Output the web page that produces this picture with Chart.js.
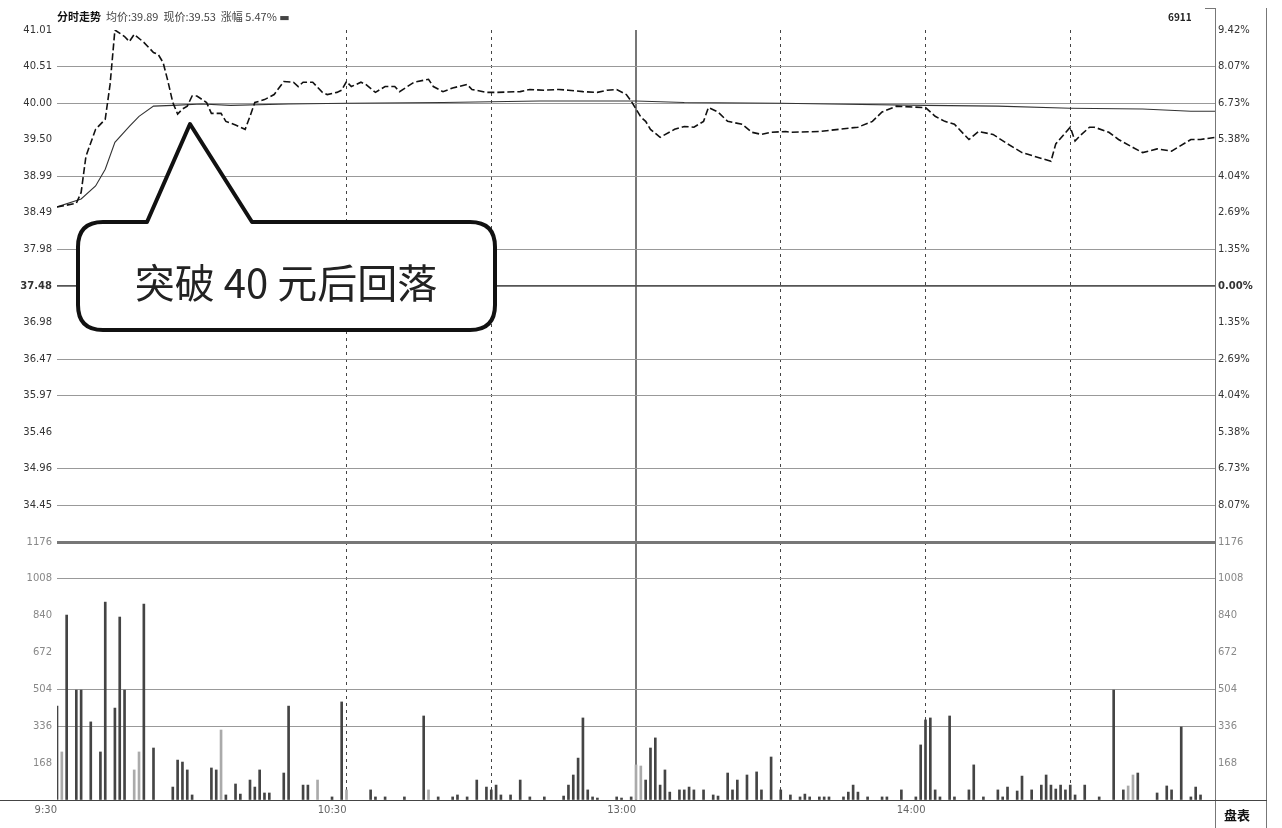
<!DOCTYPE html>
<html>
<head>
<meta charset="utf-8">
<script src="https://cdn.jsdelivr.net/npm/chart.js@4.4.0/dist/chart.umd.min.js"></script>
<style>
  body { margin: 0; background: #fff; width: 1282px; height: 828px; overflow: hidden; position: relative;
         font-family: "Noto Sans CJK SC", "DejaVu Sans", sans-serif; }
  #priceChart { position: absolute; left: 0; top: 0; }
  #volChart { position: absolute; left: 0; top: 530px; }
  .frame { position: absolute; background: #777; }
  #title { position: absolute; left: 57px; top: 8px; font-size: 11px; color: #444; white-space: nowrap; }
  #title b { color: #111; }
  #corner { position: absolute; left: 1168px; top: 9px; font-size: 10px; font-weight: bold; color: #222; }
  #tab { position: absolute; left: 1224px; top: 805px; font-size: 13px; font-weight: bold; color: #111; }
  #callout { position: absolute; left: 0; top: 0; }
</style>
</head>
<body>
<canvas id="priceChart" width="1282" height="560"></canvas>
<canvas id="volChart" width="1282" height="298"></canvas>

<div class="frame" style="left:1215px;top:8px;width:1px;height:820px;"></div>
<div class="frame" style="left:1266px;top:8px;width:1px;height:820px;"></div>
<div class="frame" style="left:1205px;top:8px;width:10px;height:1px;"></div>
<div class="frame" style="left:0;top:800px;width:1267px;height:1px;background:#444;"></div>
<div id="title"><b>分时走势</b>&nbsp; 均价:39.89 &nbsp;现价:39.53 &nbsp;涨幅 5.47% ▬</div>
<div id="corner">6911</div>
<div id="tab">盘表</div>

<svg id="callout" width="1282" height="828">
  <path d="M 147 222 L 190 124 L 252 222 L 470 222 Q 495 222 495 247 L 495 305 Q 495 330 470 330 L 103 330 Q 78 330 78 305 L 78 247 Q 78 222 103 222 Z"
        fill="#fff" stroke="#111" stroke-width="4" stroke-linejoin="round"/>
  <text x="286" y="298" text-anchor="middle" font-size="40" fill="#222"
        font-family="Noto Sans CJK SC, sans-serif">突破 40 元后回落</text>
</svg>

<script>
// minute index: 0 = 9:30, 120 = 11:30/13:00, 240 = 15:00
var prevClose = 37.48;
var topPrice = 41.01;

var priceTimes = [0, 4, 5, 6, 8, 10, 11, 12, 14, 15, 16, 18, 20, 21, 22, 23, 24, 25, 26, 27, 28, 29, 31, 32, 34, 35, 37, 39, 40, 41,
  43, 45, 47, 49, 50, 51, 53, 55, 56, 58, 59, 60, 61, 63, 64, 66, 68, 70, 71, 74, 77, 78, 80, 82, 85, 86, 89, 91, 96, 98,
  101, 104, 106, 109, 112, 114, 116, 118, 119, 120, 121, 122, 123, 125, 128, 130, 132, 134, 135, 137, 139, 142, 144, 146, 148, 151, 152, 158, 162, 166,
  169, 171, 174, 180, 182, 184, 186, 189, 191, 194, 197, 200, 203, 206, 207, 210, 211, 212, 214, 215, 218, 220, 223, 225, 228, 231, 235, 237, 240];
var prices = [38.57, 38.62, 38.77, 39.27, 39.64, 39.78, 40.26, 41.01, 40.92, 40.85, 40.95, 40.84, 40.70, 40.67, 40.56, 40.30, 40.01, 39.85, 39.92, 39.96, 40.10, 40.10, 40.01, 39.86, 39.86, 39.75, 39.70, 39.64, 39.82, 40.01,
  40.05, 40.12, 40.30, 40.29, 40.23, 40.29, 40.29, 40.15, 40.12, 40.15, 40.18, 40.30, 40.23, 40.29, 40.26, 40.15, 40.23, 40.23, 40.16, 40.29, 40.33, 40.23, 40.16, 40.21, 40.26, 40.19, 40.15, 40.15, 40.16, 40.19,
  40.18, 40.19, 40.18, 40.16, 40.15, 40.18, 40.19, 40.12, 40.03, 39.92, 39.81, 39.75, 39.64, 39.53, 39.64, 39.68, 39.67, 39.75, 39.94, 39.88, 39.75, 39.71, 39.60, 39.57, 39.60, 39.61, 39.60, 39.61, 39.64, 39.67,
  39.75, 39.88, 39.96, 39.94, 39.82, 39.75, 39.71, 39.50, 39.61, 39.57, 39.44, 39.32, 39.26, 39.20, 39.44, 39.67, 39.48, 39.55, 39.67, 39.67, 39.60, 39.50, 39.39, 39.32, 39.37, 39.34, 39.50, 39.50, 39.53];

var avgTimes = [0, 5, 8, 10, 12, 15, 17, 20, 24, 30, 36, 48, 60, 80, 100, 120, 130, 150, 160, 180, 195, 210, 225, 235, 240];
var avgPrices = [38.57, 38.68, 38.86, 39.09, 39.46, 39.68, 39.82, 39.96, 39.97, 39.99, 39.97, 39.99, 40.00, 40.01, 40.03, 40.03, 40.01, 40.00, 39.99, 39.97, 39.96, 39.93, 39.92, 39.89, 39.89];

var volTimes = [0, 1, 2, 4, 5, 7, 9, 10, 12, 13, 14, 16, 17, 18, 20, 24, 25, 26, 27, 28, 32, 33, 34, 35, 37, 38, 40, 41, 42, 43,
  44, 47, 48, 51, 52, 54, 57, 59, 60, 65, 66, 68, 72, 76, 77, 79, 82, 83, 85, 87, 89, 90, 91, 92, 94, 96, 98, 101, 105, 106,
  107, 108, 109, 110, 111, 112, 116, 117, 119, 120, 121, 122, 123, 124, 125, 126, 127, 129, 130, 131, 132, 134, 136, 137, 139, 140, 141, 143, 145, 146,
  148, 150, 152, 154, 155, 156, 158, 159, 160, 163, 164, 165, 166, 168, 171, 172, 175, 178, 179, 180, 181, 182, 183, 185, 186, 189, 190, 192, 195, 196,
  197, 199, 200, 202, 204, 205, 206, 207, 208, 209, 210, 211, 213, 216, 219, 221, 222, 223, 224, 228, 230, 231, 233, 235, 236, 237];
var volumes = [428, 219, 843, 501, 501, 356, 219, 902, 419, 834, 501, 137, 219, 893, 237, 59, 182, 173, 137, 23, 146, 137, 319, 23, 73, 27, 91, 59, 137, 32,
  32, 123, 428, 68, 68, 91, 14, 447, 46, 46, 14, 14, 14, 383, 46, 14, 14, 23, 14, 91, 59, 46, 68, 23, 23, 91, 14, 14, 18, 68,
  114, 191, 374, 46, 14, 9, 14, 9, 14, 160, 155, 91, 237, 283, 68, 137, 36, 46, 46, 59, 46, 46, 23, 18, 123, 46, 91, 114, 128, 46,
  196, 46, 23, 14, 27, 14, 14, 14, 14, 14, 36, 68, 36, 14, 14, 14, 46, 14, 251, 365, 374, 46, 14, 383, 14, 46, 160, 14, 46, 14,
  59, 41, 109, 46, 68, 114, 68, 50, 68, 46, 68, 23, 68, 14, 501, 46, 64, 114, 123, 32, 64, 46, 333, 14, 59, 23];
// 1 = buy-side (dark bar), -1 = sell-side (pale bar)
var volSide = [1, -1, 1, 1, 1, 1, 1, 1, 1, 1, 1, -1, -1, 1, 1, 1, 1, 1, 1, 1, 1, 1, -1, 1, 1, 1, 1, 1, 1, 1,
  1, 1, 1, 1, 1, -1, 1, 1, -1, 1, 1, 1, 1, 1, -1, 1, 1, 1, 1, 1, 1, 1, 1, 1, 1, 1, 1, 1, 1, 1,
  1, 1, 1, 1, 1, 1, 1, 1, 1, -1, -1, 1, 1, 1, 1, 1, 1, 1, 1, 1, 1, 1, 1, 1, 1, 1, 1, 1, 1, 1,
  1, 1, 1, 1, 1, 1, 1, 1, 1, 1, 1, 1, 1, 1, 1, 1, 1, 1, 1, 1, 1, 1, 1, 1, 1, 1, 1, 1, 1, 1,
  1, 1, 1, 1, 1, 1, 1, 1, 1, 1, 1, 1, 1, 1, 1, 1, -1, -1, 1, 1, 1, 1, 1, 1, 1, 1];

var timeMarks = [60, 90, 120, 150, 180, 210];
var timeLabels = { 0: '9:30', 60: '10:30', 120: '13:00', 180: '14:00' };
var volMax = 1176, volStep = 168;

// price grid: 7 rows above and below previous close
var rowStep = (topPrice - prevClose) / 7;
var priceTicks = [];
for (var i = 0; i <= 14; i++) priceTicks.push(prevClose + (7 - i) * rowStep);
var hiddenRows = [0, 3, 5, 8, 11, 14];

function toPoints(xs, ys) {
  return xs.map(function (x, i) { return { x: x, y: ys[i] }; });
}

function vertGrid(ctx) {
  var v = ctx.tick && ctx.tick.value;
  if (v === 120) return '#777';
  if (timeMarks.indexOf(v) >= 0) return '#444';
  return 'rgba(0,0,0,0)';
}

var labelFont = { family: 'DejaVu Sans', size: 10 };

new Chart(document.getElementById('priceChart').getContext('2d'), {
  type: 'line',
  data: {
    datasets: [{
      data: toPoints(priceTimes, prices),
      borderColor: '#111', borderWidth: 1.6, borderDash: [7, 3],
      pointRadius: 0, yAxisID: 'y'
    }, {
      data: toPoints(avgTimes, avgPrices),
      borderColor: '#333', borderWidth: 1.1,
      pointRadius: 0, yAxisID: 'y'
    }]
  },
  options: {
    responsive: false, animation: false,
    layout: { padding: { top: 30, bottom: 18 } },
    plugins: { legend: { display: false }, tooltip: { enabled: false } },
    scales: {
      x: {
        type: 'linear', min: 0, max: 240,
        afterBuildTicks: function (s) { s.ticks = timeMarks.map(function (v) { return { value: v }; }); },
        ticks: { display: false },
        grid: { offset: false, color: vertGrid, lineWidth: function (c) { return c.tick && c.tick.value === 120 ? 2 : 1; }, drawTicks: false },
        border: { display: false, dash: function (c) { return c.tick && c.tick.value === 120 ? [] : [3, 4]; } }
      },
      y: {
        position: 'left', min: priceTicks[14], max: priceTicks[0],
        afterBuildTicks: function (s) { s.ticks = priceTicks.map(function (v) { return { value: v }; }); },
        afterFit: function (s) { s.width = 57; },
        ticks: {
          padding: 5, color: '#333', font: function (c) { return c.index === 7 ? { family: 'DejaVu Sans', size: 10, weight: 'bold' } : labelFont; },
          callback: function (v, i) { return i === 14 ? '' : v.toFixed(2); }
        },
        grid: {
          drawTicks: false,
          color: function (c) { return hiddenRows.indexOf(c.index) >= 0 ? 'rgba(0,0,0,0)' : (c.index === 7 ? '#555' : '#999'); },
          lineWidth: function (c) { return c.index === 7 ? 1.8 : 1; }
        },
        border: { display: false }
      },
      yPct: {
        position: 'right', min: priceTicks[14], max: priceTicks[0],
        afterBuildTicks: function (s) { s.ticks = priceTicks.map(function (v) { return { value: v }; }); },
        afterFit: function (s) { s.width = 67; },
        ticks: {
          padding: 3, color: '#333', font: function (c) { return c.index === 7 ? { family: 'DejaVu Sans', size: 10, weight: 'bold' } : labelFont; },
          callback: function (v, i) { return i === 14 ? '' : (Math.abs(v - prevClose) / prevClose * 100).toFixed(2) + '%'; }
        },
        grid: { drawOnChartArea: false, drawTicks: false },
        border: { display: false }
      }
    }
  }
});

var volGridShown = [volMax, 1008, 504, 336];

new Chart(document.getElementById('volChart').getContext('2d'), {
  type: 'bar',
  data: {
    datasets: [{
      data: toPoints(volTimes, volumes),
      backgroundColor: volSide.map(function (s) { return s > 0 ? '#444' : '#aaa'; }),
      barThickness: 2
    }]
  },
  options: {
    responsive: false, animation: false,
    layout: { padding: { top: 12, bottom: 0 } },
    plugins: { legend: { display: false }, tooltip: { enabled: false } },
    scales: {
      x: {
        type: 'linear', min: 0, max: 240, offset: false,
        afterBuildTicks: function (s) { s.ticks = [0].concat(timeMarks).map(function (v) { return { value: v }; }); },
        afterFit: function (s) { s.height = 28; },
        ticks: {
          color: '#666', font: labelFont, padding: 4, align: 'end', maxRotation: 0, autoSkip: false,
          callback: function (v) { return timeLabels[v] || ''; }
        },
        grid: { offset: false, color: vertGrid, lineWidth: function (c) { return c.tick && c.tick.value === 120 ? 2 : 1; }, drawTicks: false },
        border: { display: false, dash: function (c) { return c.tick && c.tick.value === 120 ? [] : [3, 4]; } }
      },
      y: {
        position: 'left', min: 0, max: volMax,
        afterBuildTicks: function (s) {
          var t = [];
          for (var v = 0; v <= volMax; v += volStep) t.push({ value: v });
          s.ticks = t;
        },
        afterFit: function (s) { s.width = 57; },
        ticks: { padding: 5, color: '#888', font: labelFont, callback: function (v) { return v === 0 ? '' : String(v); } },
        grid: {
          drawTicks: false,
          color: function (c) { return c.tick && volGridShown.indexOf(c.tick.value) >= 0 ? (c.tick.value === volMax ? '#777' : '#999') : 'rgba(0,0,0,0)'; },
          lineWidth: function (c) { return c.tick && c.tick.value === volMax ? 3 : 1; }
        },
        border: { display: false }
      },
      yR: {
        position: 'right', min: 0, max: volMax,
        afterBuildTicks: function (s) {
          var t = [];
          for (var v = 0; v <= volMax; v += volStep) t.push({ value: v });
          s.ticks = t;
        },
        afterFit: function (s) { s.width = 67; },
        ticks: { padding: 3, color: '#888', font: labelFont, callback: function (v) { return v === 0 ? '' : String(v); } },
        grid: { drawOnChartArea: false, drawTicks: false },
        border: { display: false }
      }
    }
  }
});
</script>
</body>
</html>
